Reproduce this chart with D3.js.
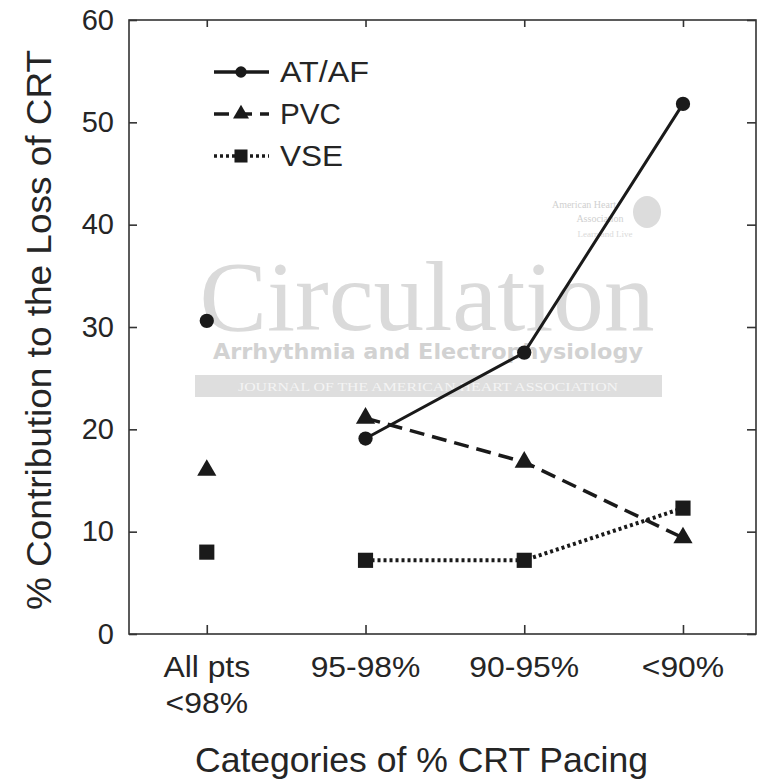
<!DOCTYPE html>
<html>
<head>
<meta charset="utf-8">
<script src="https://cdn.jsdelivr.net/npm/d3@7"></script>
<style>
  html, body { margin: 0; padding: 0; background: #fff; }
  svg { display: block; }
  text { font-family: "Liberation Sans", Arial, sans-serif; }
</style>
</head>
<body>
<svg id="chart" width="759" height="782"></svg>
<script>
// ---- data ----
const categories = ["All pts\n<98%", "95-98%", "90-95%", "<90%"];
const atafValues = [30.6, 19.1, 27.5, 51.8];
const pvcValues  = [16.0, 21.1, 16.8, 9.4];
const vseValues  = [8.0, 7.2, 7.2, 12.3];
const seriesNames = ["AT/AF", "PVC", "VSE"];
const yTicks = [0, 10, 20, 30, 40, 50, 60];
const xTitle = "Categories of % CRT Pacing";
const yTitle = "% Contribution to the Loss of CRT";

// ---- layout ----
const svg = d3.select("#chart");
const plotL = 129, plotR = 756, plotT = 20, plotB = 634;
const ink = "#1a1a1a";
const txt = "#252525";

const x = d3.scaleLinear().domain([-0.49, 3.46]).range([plotL, plotR]);
const y = d3.scaleLinear().domain([0, 60]).range([plotB, plotT]);

// ---- watermark ----
const wm = svg.append("g");
wm.append("text").attr("x", 427).attr("y", 330).attr("text-anchor", "middle")
  .style("font-family", "'Liberation Serif', 'DejaVu Serif', serif")
  .style("font-size", "100px").attr("fill", "#dadada")
  .attr("textLength", 455).attr("lengthAdjust", "spacingAndGlyphs")
  .text("Circulation");
wm.append("text").attr("x", 213).attr("y", 359)
  .style("font-family", "'DejaVu Sans', sans-serif").style("font-weight", "bold")
  .style("font-size", "22px").attr("fill", "#d2d2d2")
  .attr("textLength", 430).attr("lengthAdjust", "spacingAndGlyphs")
  .text("Arrhythmia and Electrophysiology");
wm.append("rect").attr("x", 195).attr("y", 375).attr("width", 467).attr("height", 22)
  .attr("fill", "#dedede");
wm.append("text").attr("x", 428).attr("y", 391).attr("text-anchor", "middle")
  .style("font-family", "'Liberation Serif', serif").style("font-size", "13px")
  .attr("fill", "#f4f4f4").attr("textLength", 380).attr("lengthAdjust", "spacingAndGlyphs")
  .text("JOURNAL OF THE AMERICAN HEART ASSOCIATION");
wm.append("text").attr("x", 584).attr("y", 208).attr("text-anchor", "middle")
  .style("font-family", "'Liberation Serif', serif").style("font-size", "10px")
  .attr("fill", "#d0d0d0").text("American Heart");
wm.append("text").attr("x", 600).attr("y", 222).attr("text-anchor", "middle")
  .style("font-family", "'Liberation Serif', serif").style("font-size", "10px")
  .attr("fill", "#d0d0d0").text("Association");
wm.append("text").attr("x", 605).attr("y", 237).attr("text-anchor", "middle")
  .style("font-family", "'Liberation Serif', serif").style("font-size", "9px")
  .attr("fill", "#dadada").text("Learn and Live");
wm.append("ellipse").attr("cx", 647).attr("cy", 212).attr("rx", 14).attr("ry", 16)
  .attr("fill", "#dcdcdc");

// ---- frame ----
svg.append("rect").attr("x", plotL).attr("y", plotT)
  .attr("width", plotR - plotL).attr("height", plotB - plotT)
  .attr("fill", "none").attr("stroke", "#333").attr("stroke-width", 1.6);

// ---- axes ----
const yAxisL = d3.axisLeft(y).tickValues(yTicks).tickSizeInner(-8).tickSizeOuter(0).tickPadding(15);
const gyl = svg.append("g").attr("transform", `translate(${plotL},0)`).call(yAxisL);
gyl.select(".domain").remove();
gyl.selectAll(".tick line").attr("stroke", "#333").attr("stroke-width", 1.6);
gyl.selectAll(".tick text").attr("fill", txt).style("font-size", "29px")
  .style("font-family", "'Liberation Sans', Arial, sans-serif");

const yAxisR = d3.axisRight(y).tickValues(yTicks).tickSizeInner(-9).tickSizeOuter(0).tickFormat("");
const gyr = svg.append("g").attr("transform", `translate(${plotR},0)`).call(yAxisR);
gyr.select(".domain").remove();
gyr.selectAll(".tick line").attr("stroke", "#333").attr("stroke-width", 1.6);

const idx = d3.range(categories.length);
const xAxisB = d3.axisBottom(x).tickValues(idx).tickSizeInner(-9).tickSizeOuter(0).tickFormat("");
const gxb = svg.append("g").attr("transform", `translate(0,${plotB})`).call(xAxisB);
gxb.select(".domain").remove();
gxb.selectAll(".tick line").attr("stroke", "#333").attr("stroke-width", 1.6);

const xAxisT = d3.axisTop(x).tickValues(idx).tickSizeInner(-7).tickSizeOuter(0).tickFormat("");
const gxt = svg.append("g").attr("transform", `translate(0,${plotT})`).call(xAxisT);
gxt.select(".domain").remove();
gxt.selectAll(".tick line").attr("stroke", "#333").attr("stroke-width", 1.6);

// x tick labels (multi-line), slightly widened like the reference
categories.forEach((c, i) => {
  const lines = c.split("\n");
  const g = svg.append("g").attr("transform", `translate(${x(i)},677) scale(1.08,1)`);
  const t = g.append("text").attr("x", 0).attr("y", 0)
    .attr("text-anchor", "middle").attr("fill", txt).style("font-size", "29.5px");
  lines.forEach((ln, k) => {
    t.append("tspan").attr("x", 0).attr("dy", k === 0 ? 0 : 36).text(ln);
  });
});

// titles
svg.append("text").attr("x", 195).attr("y", 772)
  .attr("fill", txt).style("font-size", "35px")
  .attr("textLength", 453).attr("lengthAdjust", "spacingAndGlyphs").text(xTitle);
svg.append("text").attr("transform", "translate(51,610) rotate(-90)")
  .attr("fill", txt).style("font-size", "35px")
  .attr("textLength", 560).attr("lengthAdjust", "spacingAndGlyphs").text(yTitle);

// ---- series ----
const series = [
  { name: seriesNames[0], values: atafValues, dash: null, width: 3, sym: d3.symbolCircle, size: 160, lsize: 100, tl: 89 },
  { name: seriesNames[1], values: pvcValues, dash: "15,8", width: 3.5, sym: d3.symbolTriangle, size: 160, lsize: 110, tl: 61 },
  { name: seriesNames[2], values: vseValues, dash: "3,3", width: 4, sym: d3.symbolSquare, size: 230, lsize: 170, tl: 63 }
];

const line = d3.line().x(d => x(d.i)).y(d => y(d.v));

series.forEach(s => {
  const pts = s.values.map((v, i) => ({ i, v }));
  const connected = pts.slice(1); // "All pts" is plotted as a standalone point
  svg.append("path").datum(connected).attr("d", line)
    .attr("fill", "none").attr("stroke", ink).attr("stroke-width", s.width)
    .attr("stroke-dasharray", s.dash);
  svg.selectAll(null).data(pts).enter().append("path")
    .attr("transform", d => `translate(${x(d.i)},${y(d.v)})`)
    .attr("d", d3.symbol().type(s.sym).size(s.size))
    .attr("fill", ink);
});

// ---- legend ----
const legendY = [72, 114, 156];
series.forEach((s, k) => {
  const g = svg.append("g").attr("transform", `translate(0,${legendY[k]})`);
  g.append("line").attr("x1", 214).attr("x2", 269).attr("y1", 0).attr("y2", 0)
    .attr("stroke", ink).attr("stroke-width", 3.5).attr("stroke-dasharray", s.dash);
  g.append("path").attr("transform", "translate(241,0)")
    .attr("d", d3.symbol().type(s.sym).size(s.lsize)).attr("fill", ink);
  g.append("text").attr("x", 280).attr("y", 0).attr("dy", "0.36em")
    .attr("fill", txt).style("font-size", "29px")
    .attr("textLength", s.tl).attr("lengthAdjust", "spacingAndGlyphs").text(s.name);
});
</script>
</body>
</html>
